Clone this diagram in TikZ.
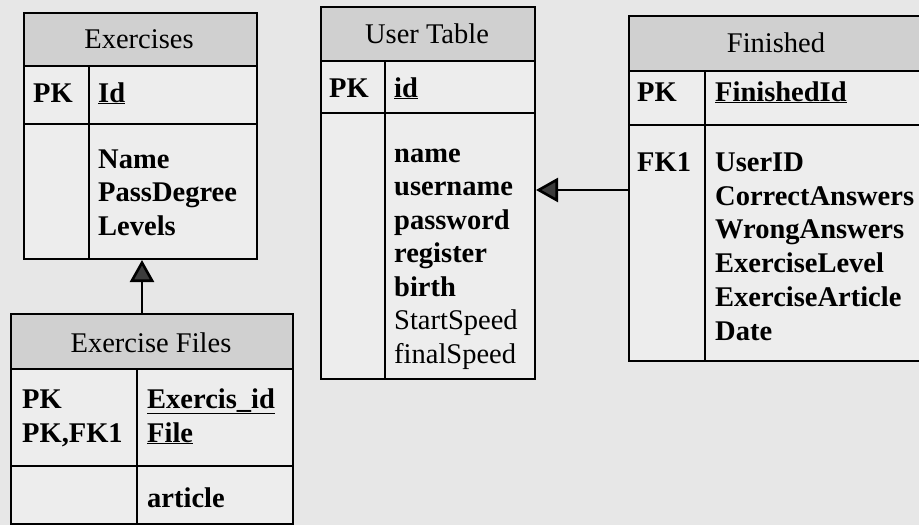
\documentclass[tikz,border=0pt]{standalone}
\usepackage{fontspec}
\setmainfont{Liberation Serif}
\usetikzlibrary{arrows.meta}
\definecolor{pagegray}{HTML}{E7E7E7}
\definecolor{cellgray}{HTML}{EDEDED}
\definecolor{hdrgray}{HTML}{D0D0D0}
\definecolor{arrgray}{HTML}{3C3C3C}
\newcommand{\fsz}{\fontsize{28.5}{33.5}\selectfont}
\tikzset{
  tbl/.style={draw=black, line width=2pt, fill=cellgray, inner sep=0pt, anchor=north west},
  hdr/.style={draw=black, line width=2pt, fill=hdrgray, inner sep=0pt, anchor=north west},
  sep/.style={draw=black, line width=2pt},
  fld/.style={anchor=base west, inner sep=0pt, font=\fsz\rmfamily\bfseries},
  fldr/.style={anchor=base west, inner sep=0pt, font=\fsz\rmfamily},
  ttl/.style={anchor=base, inner sep=0pt, font=\fsz\rmfamily},
  rel/.style={draw=black, line width=2.6pt, -{Triangle[length=22pt,width=24pt,fill=arrgray]}}
}
\begin{document}
\begin{tikzpicture}[x=1pt,y=-1pt]
\useasboundingbox[fill=pagegray] (0,0) rectangle (919,525);

% ---------- Exercises ----------
\node[tbl, minimum width=233pt, minimum height=246pt] (ex) at (23,12) {};
\node[hdr, minimum width=233pt, minimum height=53pt] (exh) at (23,12) {};
\draw[sep] (23,124) -- (256,124);
\draw[sep] (89,65) -- (89,258);
\node[ttl] (exT) at (139,48) {Exercises};
\node[fld] (exPK) at (33,102) {PK};
\node[fld] (exId) at (98,102) {\underline{Id}};
\node[fld] (exF1) at (98,168) {Name};
\node[fld] (exF2) at (98,201) {PassDegree};
\node[fld] (exF3) at (98,235) {Levels};

% ---------- Exercise Files ----------
\node[tbl, minimum width=282pt, minimum height=210pt] (ef) at (10,313) {};
\node[hdr, minimum width=282pt, minimum height=55pt] (efh) at (10,313) {};
\draw[sep] (10,466) -- (292,466);
\draw[sep] (137,368) -- (137,523);
\node[ttl] (efT) at (151,352) {Exercise Files};
\node[fld] (efPK1) at (22,408) {PK};
\node[fld] (efPK2) at (22,442) {PK,FK1};
\node[fld] (efK1) at (147,408) {\underline{Exercis\_id}};
\node[fld] (efK2) at (147,442) {\underline{File}};
\node[fld] (efF1) at (147,507) {article};

% ---------- User Table ----------
\node[tbl, minimum width=214pt, minimum height=372pt] (ut) at (320,6) {};
\node[hdr, minimum width=214pt, minimum height=54pt] (uth) at (320,6) {};
\draw[sep] (320,113) -- (534,113);
\draw[sep] (385,60) -- (385,378);
\node[ttl] (utT) at (427,43) {User Table};
\node[fld] (utPK) at (329,97) {PK};
\node[fld] (utId) at (394,97) {\underline{id}};
\node[fld] (utF1) at (394,162) {name};
\node[fld] (utF2) at (394,195.5) {username};
\node[fld] (utF3) at (394,229) {password};
\node[fld] (utF4) at (394,262.5) {register};
\node[fld] (utF5) at (394,296) {birth};
\node[fldr] (utF6) at (394,329.5) {StartSpeed};
\node[fldr] (utF7) at (394,363) {finalSpeed};

% ---------- Finished ----------
\node[tbl, minimum width=303pt, minimum height=345pt] (fi) at (628,15) {};
\node[hdr, minimum width=303pt, minimum height=55pt] (fih) at (628,15) {};
\draw[sep] (628,125) -- (931,125);
\draw[sep] (705,70) -- (705,360);
\node[ttl] (fiT) at (776,52) {Finished};
\node[fld] (fiPK) at (637,101) {PK};
\node[fld] (fiId) at (715,101) {\underline{FinishedId}};
\node[fld] (fiFK) at (637,171) {FK1};
\node[fld] (fiF1) at (715,171) {UserID};
\node[fld] (fiF2) at (715,205) {CorrectAnswers};
\node[fld] (fiF3) at (715,238) {WrongAnswers};
\node[fld] (fiF4) at (715,272) {ExerciseLevel};
\node[fld] (fiF5) at (715,306) {ExerciseArticle};
\node[fld] (fiF6) at (715,340) {Date};

% ---------- relations ----------
\coordinate (ax) at (142,0);
\coordinate (ay) at (0,190);
\draw[rel] (ef.north -| ax) -- (ex.south -| ax);
\draw[rel] (fi.west |- ay) -- (ut.east |- ay);
\end{tikzpicture}
\end{document}
